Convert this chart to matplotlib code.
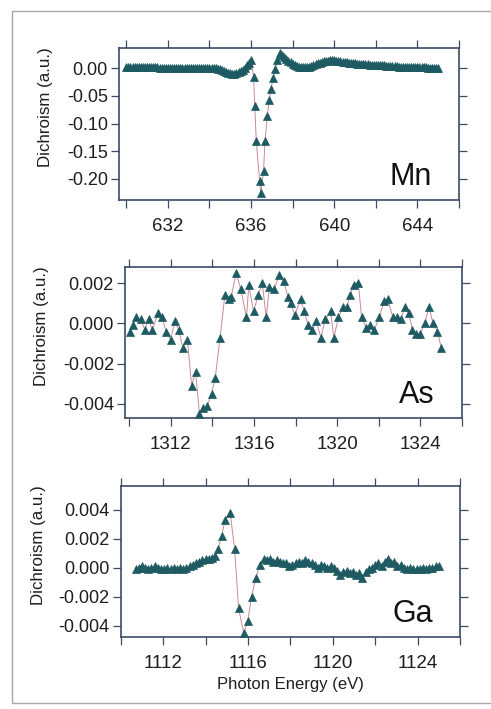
import numpy as np
import matplotlib
matplotlib.use("Agg")
import matplotlib.pyplot as plt
from matplotlib.patches import Rectangle

plt.rcParams["font.family"] = ["Liberation Sans", "DejaVu Sans"]

# Mn L3 edge
mn_energy = [630.0, 630.1, 630.2, 630.3, 630.4, 630.5, 630.6, 630.7, 630.8, 630.9,
             631.0, 631.1, 631.2, 631.3, 631.4, 631.5, 631.6, 631.7, 631.8, 631.9,
             632.0, 632.1, 632.2, 632.3, 632.4, 632.5, 632.6, 632.7, 632.8, 632.9,
             633.0, 633.1, 633.2, 633.3, 633.4, 633.5, 633.6, 633.7, 633.8, 633.9,
             634.0, 634.1, 634.2, 634.3, 634.4, 634.5, 634.6, 634.7, 634.8, 634.9,
             635.0, 635.1, 635.2, 635.3, 635.4, 635.5, 635.6, 635.7, 635.8, 635.9,
             636.0, 636.12, 636.18, 636.25, 636.41, 636.47, 636.6, 636.67, 636.78, 636.87,
             636.95, 637.07, 637.16, 637.27, 637.38,
             637.5, 637.6, 637.7, 637.8, 637.9, 638.0, 638.1, 638.2, 638.3, 638.4,
             638.5, 638.6, 638.7, 638.8, 638.9, 639.0, 639.1, 639.2, 639.3, 639.4,
             639.5, 639.6, 639.7, 639.8, 639.9, 640.0, 640.1, 640.2, 640.3, 640.4,
             640.5, 640.6, 640.7, 640.8, 640.9, 641.0, 641.1, 641.2, 641.3, 641.4,
             641.5, 641.6, 641.7, 641.8, 641.9, 642.0, 642.1, 642.2, 642.3, 642.4,
             642.5, 642.6, 642.7, 642.8, 642.9, 643.0, 643.1, 643.2, 643.3, 643.4,
             643.5, 643.6, 643.7, 643.8, 643.9, 644.0, 644.1, 644.2, 644.3, 644.4,
             644.5, 644.6, 644.7, 644.8, 644.9, 645.0]
mn_dichroism = [0.002, 0.002, 0.002, 0.002, 0.002, 0.002, 0.002, 0.002, 0.002, 0.002,
                0.002, 0.002, 0.002, 0.002, 0.002, 0.002, 0.001, 0.001, 0.001, 0.001,
                0.001, 0.001, 0.001, 0.001, 0.001, 0.001, 0.001, 0.001, 0.001, 0.001,
                0.001, 0.001, 0.001, 0.001, 0.001, 0.001, 0.000, 0.000, 0.000, 0.000,
                0.000, 0.000, 0.000, 0.000, -0.001, -0.002, -0.003, -0.005, -0.006, -0.008,
                -0.009, -0.010, -0.010, -0.009, -0.007, -0.005, -0.003, 0.001, 0.006, 0.010,
                0.015, -0.015, -0.069, -0.131, -0.203, -0.226, -0.186, -0.132, -0.087, -0.058,
                -0.038, -0.017, -0.001, 0.015, 0.027,
                0.024, 0.021, 0.017, 0.014, 0.011, 0.008, 0.006, 0.004, 0.003, 0.002,
                0.002, 0.002, 0.002, 0.003, 0.004, 0.006, 0.007, 0.009, 0.010, 0.012,
                0.013, 0.014, 0.014, 0.015, 0.015, 0.015, 0.014, 0.014, 0.013, 0.012,
                0.012, 0.011, 0.010, 0.010, 0.009, 0.009, 0.008, 0.008, 0.007, 0.007,
                0.007, 0.007, 0.006, 0.006, 0.006, 0.006, 0.005, 0.005, 0.005, 0.005,
                0.004, 0.004, 0.004, 0.004, 0.004, 0.004, 0.003, 0.003, 0.003, 0.003,
                0.003, 0.003, 0.002, 0.002, 0.002, 0.002, 0.002, 0.002, 0.002, 0.002,
                0.001, 0.001, 0.001, 0.001, 0.001, 0.001]

# As L3 edge
as_energy = [1310.02, 1310.17, 1310.32, 1310.55, 1310.75, 1310.93, 1311.11, 1311.39, 1311.59, 1311.77,
             1312.0, 1312.18, 1312.38, 1312.58, 1312.8, 1313.0, 1313.19, 1313.38, 1313.56, 1313.76,
             1313.96, 1314.14, 1314.37, 1314.6, 1314.78, 1314.9, 1315.14, 1315.37, 1315.64, 1315.75,
             1315.98, 1316.2, 1316.4, 1316.59, 1316.74, 1316.97, 1317.2, 1317.43, 1317.64, 1317.78,
             1317.96, 1318.24, 1318.42, 1318.61, 1318.81, 1319.0, 1319.22, 1319.42, 1319.68, 1319.84,
             1320.06, 1320.26, 1320.46, 1320.61, 1320.79, 1321.02, 1321.17, 1321.4, 1321.6, 1321.79,
             1322.02, 1322.25, 1322.43, 1322.68, 1322.86, 1323.06, 1323.24, 1323.44, 1323.62, 1323.81,
             1324.0, 1324.2, 1324.42, 1324.61, 1324.82, 1325.0]
as_dichroism = [-0.0004, -0.0001, 0.0003, 0.0002, -0.0003, 0.0002, -0.0003, 0.0005, 0.0003, -0.0004,
                -0.0008, 0.0001, -0.0003, -0.0012, -0.0008, -0.0031, -0.0024, -0.0045, -0.0042, -0.0041,
                -0.0035, -0.0027, -0.0007, 0.0014, 0.0012, 0.0013, 0.0025, 0.0017, 0.0003, 0.0019,
                0.0006, 0.0014, 0.0020, 0.0003, 0.0018, 0.0017, 0.0024, 0.0021, 0.0013, 0.0010,
                0.0004, 0.0012, 0.0006, -0.0001, -0.0003, 0.0001, -0.0007, 0.0002, 0.0006, -0.0007,
                0.0003, 0.0008, 0.0008, 0.0014, 0.0019, 0.0020, 0.0003, -0.0002, -0.0001, -0.0003,
                0.0003, 0.0011, 0.0012, 0.0003, 0.0003, 0.0002, 0.0008, 0.0005, -0.0003, -0.0005,
                -0.0005, 0.0000, 0.0008, 0.0000, -0.0004, -0.0012]

# Ga L3 edge
ga_energy = [1110.70, 1110.85, 1111.00, 1111.15, 1111.30, 1111.45, 1111.60, 1111.75, 1111.90, 1112.05,
             1112.20, 1112.35, 1112.50, 1112.65, 1112.80, 1112.95, 1113.10, 1113.25, 1113.40, 1113.55,
             1113.70, 1113.85, 1114.00, 1114.15, 1114.30, 1114.45, 1114.59, 1114.77, 1114.92, 1115.16,
             1115.37, 1115.56, 1115.80, 1115.99, 1116.17, 1116.37, 1116.57, 1116.75, 1116.90, 1117.05,
             1117.20, 1117.35, 1117.50, 1117.65, 1117.80, 1117.95, 1118.10, 1118.25, 1118.40, 1118.55,
             1118.70, 1118.85, 1119.00, 1119.15, 1119.30, 1119.45, 1119.60, 1119.75, 1119.90, 1120.05,
             1120.20, 1120.35, 1120.50, 1120.65, 1120.80, 1120.95, 1121.10, 1121.25, 1121.40, 1121.55,
             1121.70, 1121.85, 1122.00, 1122.15, 1122.30, 1122.45, 1122.60, 1122.75, 1122.90, 1123.05,
             1123.20, 1123.35, 1123.50, 1123.65, 1123.80, 1123.95, 1124.10, 1124.25, 1124.40, 1124.55,
             1124.70, 1124.85, 1125.00]
ga_dichroism = [-0.0001, 0.0000, 0.0001, 0.0000, -0.0001, 0.0000, 0.0001, 0.0000, -0.0001, -0.0001,
                0.0000, -0.0001, 0.0000, -0.0001, 0.0000, -0.0001, 0.0000, 0.0001, 0.0002, 0.0003,
                0.0004, 0.0005, 0.0006, 0.0006, 0.0007, 0.0008, 0.0013, 0.0022, 0.0033, 0.0038,
                0.0013, -0.0028, -0.0045, -0.0037, -0.0020, -0.0007, 0.0002, 0.0006, 0.0005, 0.0006,
                0.0004, 0.0005, 0.0004, 0.0003, 0.0003, 0.0001, 0.0002, 0.0003, 0.0004, 0.0003,
                0.0005, 0.0004, 0.0003, 0.0002, 0.0000, 0.0002, 0.0001, 0.0000, 0.0001, 0.0000,
                -0.0002, -0.0005, -0.0003, -0.0002, -0.0004, -0.0003, -0.0005, -0.0004, -0.0007, -0.0003,
                -0.0001, 0.0000, 0.0002, 0.0003, 0.0001, 0.0004, 0.0006, 0.0003, 0.0004, 0.0001,
                0.0002, 0.0000, -0.0001, 0.0000, -0.0001, -0.0001, -0.0001, 0.0000, -0.0001, 0.0000,
                0.0000, 0.0001, 0.0001]

mn_xticks = [632, 636, 640, 644]
mn_yticks = [0.0, -0.05, -0.10, -0.15, -0.20]
as_xticks = [1312, 1316, 1320, 1324]
as_yticks = [0.002, 0.0, -0.002, -0.004]
ga_xticks = [1112, 1116, 1120, 1124]
ga_yticks = [0.004, 0.002, 0.0, -0.002, -0.004]

MARKER = "#1d5a62"
LINE = "#c98a98"
SPINE = "#3c4a66"
TEXT = "#1e1e1e"

fig = plt.figure(figsize=(4.91, 7.09), dpi=100)
fig.patches.append(Rectangle((12 / 491, 1 - 703 / 709), 1.0, 692 / 709,
                             transform=fig.transFigure, fill=False,
                             edgecolor="#a8a8a8", linewidth=1.0))


def panel(rect, x, y, xlim, ylim, xticks, yticks, yfmt, name, label_x):
    ax = fig.add_axes(rect)
    ax.plot(x, y, color=LINE, linewidth=0.7, zorder=2)
    ax.plot(x, y, linestyle="none", marker="^", markersize=5.5,
            color=MARKER, markeredgewidth=0.5, zorder=3)
    ax.set_xlim(*xlim)
    ax.set_ylim(*ylim)
    ax.set_xticks(xticks)
    ax.set_xticks([t + 2 for t in [xticks[0] - 4] + xticks], minor=True)
    ax.set_yticks(yticks)
    ax.set_yticklabels([yfmt.format(v).replace("-0.000", "0.000") for v in yticks])
    ax.tick_params(which="both", direction="out", color=SPINE, width=0.9,
                   top=True, right=True, labeltop=False, labelright=False,
                   labelcolor=TEXT)
    ax.tick_params(which="major", length=6, labelsize=13, pad=2)
    ax.tick_params(which="minor", length=6)
    ax.tick_params(axis="x", which="major", labelsize=13.5, pad=7)
    for s in ax.spines.values():
        s.set_color(SPINE)
        s.set_linewidth(1.2)
    ax.set_ylabel("Dichroism (a.u.)", fontsize=12.2, color=TEXT)
    ax.yaxis.set_label_coords(label_x, 0.61)
    ax.text(0.92, 0.15, name, transform=ax.transAxes, fontsize=22,
            ha="right", va="center", color="#111111")
    return ax


panel([119 / 491, 1 - 200 / 709, 340 / 491, 152 / 709],
      mn_energy, mn_dichroism, (629.65, 645.3), (-0.238, 0.0366),
      mn_xticks, mn_yticks, "{:.2f}", "Mn", -0.194)
panel([125 / 491, 1 - 418 / 709, 337 / 491, 151.3 / 709],
      as_energy, as_dichroism, (1309.8, 1325.25), (-0.00471, 0.00283),
      as_xticks, as_yticks, "{:.3f}", "As", -0.226)
ax3 = panel([120.7 / 491, 1 - 636.7 / 709, 339.3 / 491, 150.7 / 709],
            ga_energy, ga_dichroism, (1110.54, 1125.3), (-0.00476, 0.00563),
            ga_xticks, ga_yticks, "{:.3f}", "Ga", -0.22)
ax3.set_xlabel("Photon Energy (eV)", fontsize=12, color=TEXT, labelpad=4)

fig.savefig("out.png", dpi=100)
